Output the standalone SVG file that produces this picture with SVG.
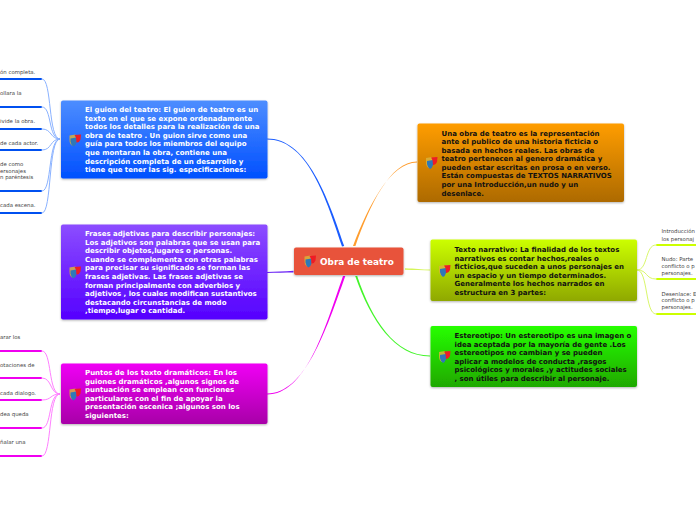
<svg xmlns="http://www.w3.org/2000/svg" width="696" height="520" viewBox="0 0 696 520">
<style>
text{font-family:"DejaVu Sans",Verdana,sans-serif}
.t{font-size:7px;font-weight:700}
.w{fill:#fff}
.k{fill:#111}
.l{font-size:5.4px;fill:#444}
.box{filter:url(#s)}
</style>
<defs>
<filter id="s" x="-5%" y="-5%" width="110%" height="115%"><feDropShadow dx="0" dy="1" stdDeviation="1" flood-color="#000" flood-opacity=".3"/></filter>
<linearGradient id="gb" x1="0" y1="0" x2="0" y2="1"><stop offset="0" stop-color="#4d8dff"/><stop offset="1" stop-color="#0050ff"/></linearGradient>
<linearGradient id="gp" x1="0" y1="0" x2="0" y2="1"><stop offset="0" stop-color="#8c4dff"/><stop offset="1" stop-color="#5500ff"/></linearGradient>
<linearGradient id="gm" x1="0" y1="0" x2="0" y2="1"><stop offset="0" stop-color="#f000f5"/><stop offset="1" stop-color="#a800a8"/></linearGradient>
<linearGradient id="go" x1="0" y1="0" x2="0" y2="1"><stop offset="0" stop-color="#ff9d00"/><stop offset="1" stop-color="#ad6a00"/></linearGradient>
<linearGradient id="gy" x1="0" y1="0" x2="0" y2="1"><stop offset="0" stop-color="#ccff00"/><stop offset="1" stop-color="#8fa800"/></linearGradient>
<linearGradient id="gg" x1="0" y1="0" x2="0" y2="1"><stop offset="0" stop-color="#26ff00"/><stop offset="1" stop-color="#1fa800"/></linearGradient>
<g id="mask">
<path d="M0 1 L6 0 L6.5 6 Q5 10.500 2.500 11 Q0 9.500 0 5 Z" fill="#d9b23a" opacity=".85"/>
<path d="M1 4 L7 3 L7 8 Q6 11.500 4 12 Q1.500 10.500 1 7 Z" fill="#2f78b8"/>
<path d="M5 0.500 L11.500 0 L11 5 Q9.500 8.500 7 8 L6.500 3 Z" fill="#ee1c25"/>
</g>
</defs>
<g id="connectors">
<path d="M344.200 246 C325.800 190.200 305 138.500 267 138.500 L267 139.500 C305.500 139.500 324 190.900 342 246.500 Z" fill="#1a5cff"/>
<path d="M293.500 270.800 C285 271.500 275 271.900 267 272 L267 273 C276 272.800 285 272.500 293.500 272.500 Z" fill="#6a22f5"/>
<path d="M345.300 276 C325.800 331 305 393.500 267 393.500 L267 394.500 C305.500 394.500 324.200 330.800 343 276 Z" fill="#f000f0"/>
<path d="M355.400 246 C370 205 390 161.500 417 161.500 L417 162.500 C390.600 162.500 368.900 204.700 353 246 Z" fill="#ff9d2e"/>
<path d="M405 268.200 C415 268.500 422 269.500 430 269.500 L430 270.500 C422 270.500 415 270 405 269.800 Z" fill="#d5f55a"/>
<path d="M357.200 276 C372 320 395 355.500 430 355.500 L430 356.500 C394.500 356.500 370.800 320.400 355.200 276 Z" fill="#44f52a"/>
<g stroke="#8ab2ff" stroke-width="1" fill="none">
<path d="M60 139 C48 139 52 79 42 79"/><path d="M60 139 C48 139 52 107 42 107"/><path d="M60 139 C50 139 52 129 42 129"/><path d="M60 139 C50 139 52 150 42 150"/><path d="M60 139 C48 139 52 191 42 191"/><path d="M60 139 C48 139 52 213 42 213"/>
</g>
<g stroke="#ff80ff" stroke-width="1" fill="none">
<path d="M60 394 C48 394 52 351 42 351"/><path d="M60 394 C50 394 52 378 42 378"/><path d="M60 394 C50 394 52 400 42 400"/><path d="M60 394 C48 394 52 428 42 428"/><path d="M60 394 C48 394 52 456 42 456"/>
</g>
<g stroke="#d9f76a" stroke-width="1" fill="none">
<path d="M637 270 C648 270 645 245 656 245"/><path d="M637 270 C648 270 645 279 656 279"/><path d="M637 270 C648 270 645 314 656 314"/>
</g>
<g stroke="#0050f0" stroke-width="2" stroke-linecap="round">
<path d="M0 79H41"/><path d="M0 107H41"/><path d="M0 129H41"/><path d="M0 150H41"/><path d="M0 191H41"/><path d="M0 213H41"/>
</g>
<g stroke="#f000f0" stroke-width="2" stroke-linecap="round">
<path d="M0 351H41"/><path d="M0 378H41"/><path d="M0 400H41"/><path d="M0 428H41"/><path d="M0 456H41"/>
</g>
<g stroke="#ccff00" stroke-width="2" stroke-linecap="round">
<path d="M657 245H696"/><path d="M657 279H696"/><path d="M657 314H696"/>
</g>
</g>
<g id="leaves-left-top">
<text class="l" x="0" y="74">ón completa.</text>
<text class="l" x="0" y="95">ollara la</text>
<text class="l" x="0" y="123">ivide la obra.</text>
<text class="l" x="0" y="145">de cada actor.</text>
<text class="l" x="0" y="166">de como</text>
<text class="l" x="0" y="173">ersonajes</text>
<text class="l" x="0" y="179">n paréntesis</text>
<text class="l" x="0" y="207">cada escena.</text>
</g>
<g id="leaves-left-bottom">
<text class="l" x="0" y="339">arar los</text>
<text class="l" x="0" y="367">otaciones de</text>
<text class="l" x="0" y="395">cada dialogo.</text>
<text class="l" x="0" y="416">dea queda</text>
<text class="l" x="0" y="444">ñalar una</text>
</g>
<g id="leaves-right">
<text class="l" x="661.500" y="233">Introducción</text>
<text class="l" x="661.500" y="241">los personaj</text>
<text class="l" x="661.500" y="261">Nudo: Parte</text>
<text class="l" x="661.500" y="268">conflicto o p</text>
<text class="l" x="661.500" y="275">personajes.</text>
<text class="l" x="661.500" y="296">Desenlace: E</text>
<text class="l" x="661.500" y="302">conflicto o p</text>
<text class="l" x="661.500" y="309">personajes.</text>
</g>
<g id="root">
<rect class="box" x="294" y="247.500" width="109.500" height="27.500" rx="2" fill="#e8533a"/>
<use href="#mask" x="304.500" y="255.500"/>
<text x="320" y="265" font-size="8.900" font-weight="700" fill="#fff">Obra de teatro</text>
</g>
<g id="guion">
<rect class="box" x="61" y="100.500" width="206.500" height="78" rx="2" fill="url(#gb)"/>
<use href="#mask" x="69.500" y="134.500"/>
<text class="t w"><tspan x="85" y="112">El guion del teatro: El guion de teatro es un</tspan><tspan x="85" y="120.600">texto en el que se expone ordenadamente</tspan><tspan x="85" y="129.200">todos los detalles para la realización de una</tspan><tspan x="85" y="137.800">obra de teatro . Un guion sirve como una</tspan><tspan x="85" y="146.400">guía para todos los miembros del equipo</tspan><tspan x="85" y="155">que montaran la obra, contiene una</tspan><tspan x="85" y="163.600">descripción completa de un desarrollo y</tspan><tspan x="85" y="172.200">tiene que tener las sig. especificaciones:</tspan></text>
</g>
<g id="frases">
<rect class="box" x="61" y="224.500" width="206.500" height="95" rx="2" fill="url(#gp)"/>
<use href="#mask" x="69.500" y="266.500"/>
<text class="t w"><tspan x="85" y="236">Frases adjetivas para describir personajes:</tspan><tspan x="85" y="244.600">Los adjetivos son palabras que se usan para</tspan><tspan x="85" y="253.200">describir objetos,lugares o personas.</tspan><tspan x="85" y="261.800">Cuando se complementa con otras palabras</tspan><tspan x="85" y="270.400">para precisar su significado se forman las</tspan><tspan x="85" y="279">frases adjetivas. Las frases adjetivas se</tspan><tspan x="85" y="287.600">forman principalmente con adverbios y</tspan><tspan x="85" y="296.200">adjetivos , los cuales modifican sustantivos</tspan><tspan x="85" y="304.800">destacando circunstancias de modo</tspan><tspan x="85" y="313.400">,tiempo,lugar o cantidad.</tspan></text>
</g>
<g id="puntos">
<rect class="box" x="61" y="363.500" width="206.500" height="60.500" rx="2" fill="url(#gm)"/>
<use href="#mask" x="69.500" y="388.500"/>
<text class="t w"><tspan x="85" y="375">Puntos de los texto dramáticos: En los</tspan><tspan x="85" y="383.600">guiones dramáticos ,algunos signos de</tspan><tspan x="85" y="392.200">puntuación se emplean con funciones</tspan><tspan x="85" y="400.800">particulares con el fin de apoyar la</tspan><tspan x="85" y="409.400">presentación escenica ;algunos son los</tspan><tspan x="85" y="418">siguientes:</tspan></text>
</g>
<g id="obra">
<rect class="box" x="417.500" y="123.500" width="206.500" height="78.500" rx="2" fill="url(#go)"/>
<use href="#mask" x="426" y="157"/>
<text class="t k"><tspan x="441.500" y="135.500">Una obra de teatro es la representación</tspan><tspan x="441.500" y="144">ante el publico de una historia ficticia o</tspan><tspan x="441.500" y="152.600">basada en hechos reales. Las obras de</tspan><tspan x="441.500" y="161.200">teatro pertenecen al genero dramática y</tspan><tspan x="441.500" y="169.800">pueden estar escritas en prosa o en verso.</tspan><tspan x="441.500" y="178.400">Están compuestas de TEXTOS NARRATIVOS</tspan><tspan x="441.500" y="187">por una Introducción,un nudo y un</tspan><tspan x="441.500" y="195.600">desenlace.</tspan></text>
</g>
<g id="narrativo">
<rect class="box" x="430.500" y="239.500" width="206.500" height="61.500" rx="2" fill="url(#gy)"/>
<use href="#mask" x="439" y="265"/>
<text class="t k"><tspan x="454.500" y="252">Texto narrativo: La finalidad de los textos</tspan><tspan x="454.500" y="260.600">narrativos es contar hechos,reales o</tspan><tspan x="454.500" y="269.200">ficticios,que suceden a unos personajes en</tspan><tspan x="454.500" y="277.800">un espacio y un tiempo determinados.</tspan><tspan x="454.500" y="286.400">Generalmente los hechos narrados en</tspan><tspan x="454.500" y="295">estructura en 3 partes:</tspan></text>
</g>
<g id="estereotipo">
<rect class="box" x="430.500" y="326" width="206.500" height="61" rx="2" fill="url(#gg)"/>
<use href="#mask" x="439" y="351"/>
<text class="t k"><tspan x="454.500" y="338">Estereotipo: Un estereotipo es una imagen o</tspan><tspan x="454.500" y="346.600">idea aceptada por la mayoría de gente .Los</tspan><tspan x="454.500" y="355.200">estereotipos no cambian y se pueden</tspan><tspan x="454.500" y="363.800">aplicar a modelos de conducta ,rasgos</tspan><tspan x="454.500" y="372.400">psicológicos y morales ,y actitudes sociales</tspan><tspan x="454.500" y="381">, son útiles para describir al personaje.</tspan></text>
</g>
</svg>
